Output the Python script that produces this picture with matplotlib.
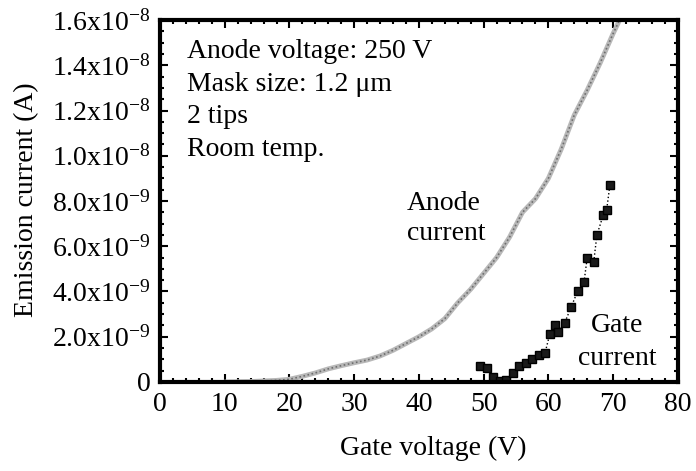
import numpy as np
import matplotlib
matplotlib.use("Agg")
from matplotlib import pyplot as plt
from matplotlib.ticker import FixedLocator, MultipleLocator

# anode current (units of 1e-9 A)
anode_v = [10, 14, 18, 20, 22, 24, 26, 28, 30, 32, 34, 36, 38, 40, 42, 44, 46,
           48, 50, 52, 54, 56, 58, 60, 62, 64, 66, 68, 70, 71]
anode_i = [0.0, 0.02, 0.07, 0.12, 0.25, 0.4, 0.58, 0.72, 0.85, 0.97, 1.15, 1.4,
           1.7, 2.0, 2.35, 2.8, 3.5, 4.1, 4.8, 5.5, 6.4, 7.5, 8.1, 9.0, 10.3,
           11.8, 12.9, 14.1, 15.4, 16.0]

# gate current (units of 1e-9 A)
gate_v = [49.5, 50.5, 51.5, 52.5, 53.5, 54.5, 55.5, 56.5, 57.5, 58.5, 59.5,
          60.2, 61.0, 61.5, 62.5, 63.5, 64.5, 65.5, 66.0, 67.0, 67.5, 68.5,
          69.0, 69.5]
gate_i = [0.7, 0.6, 0.2, 0.05, 0.1, 0.4, 0.7, 0.85, 1.0, 1.2, 1.3, 2.1, 2.5,
          2.2, 2.6, 3.3, 4.0, 4.4, 5.5, 5.3, 6.5, 7.4, 7.6, 8.7]

yticks = [0, 2, 4, 6, 8, 10, 12, 14, 16]
ylabels = ["0", "2.0x10$^{-9}$", "4.0x10$^{-9}$", "6.0x10$^{-9}$",
           "8.0x10$^{-9}$", "1.0x10$^{-8}$", "1.2x10$^{-8}$",
           "1.4x10$^{-8}$", "1.6x10$^{-8}$"]
xticks = [0, 10, 20, 30, 40, 50, 60, 70, 80]

info_lines = ["Anode voltage: 250 V", "Mask size: 1.2 \u03bcm", "2 tips", "Room temp."]

plt.rcParams["font.family"] = "Liberation Serif"
plt.rcParams["mathtext.fontset"] = "custom"
plt.rcParams["mathtext.rm"] = "Liberation Serif"
plt.rcParams["mathtext.it"] = "Liberation Serif"

fig = plt.figure(figsize=(6.96, 4.71), dpi=100)
ax = fig.add_axes([0.2299, 0.189, 0.744, 0.7685])

# anode curve: grey halftone look
ax.plot(anode_v, anode_i, color="#b8b8b8", lw=3.5, solid_capstyle="round")
ax.plot(anode_v, anode_i, color="#6e6e6e", lw=1.2, ls=(0, (1, 1.5)))
# gate current: black blobs
ax.plot(gate_v, gate_i, color="black", lw=1.0, ls=":",
        marker="s", ms=6, mfc="#1a1a1a", mec="black")

ax.set_xlim(0, 80)
ax.set_ylim(0, 16)
ax.xaxis.set_major_locator(FixedLocator(xticks))
ax.set_xticklabels([str(x) for x in xticks])
ax.yaxis.set_major_locator(FixedLocator(yticks))
ax.set_yticklabels(ylabels)
ax.xaxis.set_minor_locator(MultipleLocator(2))
ax.yaxis.set_minor_locator(MultipleLocator(0.5))
ax.tick_params(which="both", direction="in", top=True, right=True,
               labelsize=20, width=1.5)
ax.tick_params(which="major", length=6, pad=7)
ax.tick_params(which="minor", length=3)
for s in ax.spines.values():
    s.set_linewidth(3)

fig.text(433 / 696, 1 - 448 / 471, "Gate voltage (V)", fontsize=20,
         ha="center", va="center")
fig.text(27 / 696, 1 - 200 / 471, "Emission current (A)", fontsize=20,
         rotation=90, ha="center", va="center")

for k, line in enumerate(info_lines):
    ax.text(0.052, 0.895 - k * 0.09, line, transform=ax.transAxes,
            va="baseline", ha="left", fontsize=20)
ax.text(0.477, 0.475, "Anode", transform=ax.transAxes,
        ha="left", va="baseline", fontsize=20)
ax.text(0.477, 0.392, "current", transform=ax.transAxes,
        ha="left", va="baseline", fontsize=20)
ax.text(0.883, 0.138, "Gate", transform=ax.transAxes,
        ha="center", va="baseline", fontsize=20)
ax.text(0.883, 0.047, "current", transform=ax.transAxes,
        ha="center", va="baseline", fontsize=20)

fig.savefig("out.png", dpi=100)
